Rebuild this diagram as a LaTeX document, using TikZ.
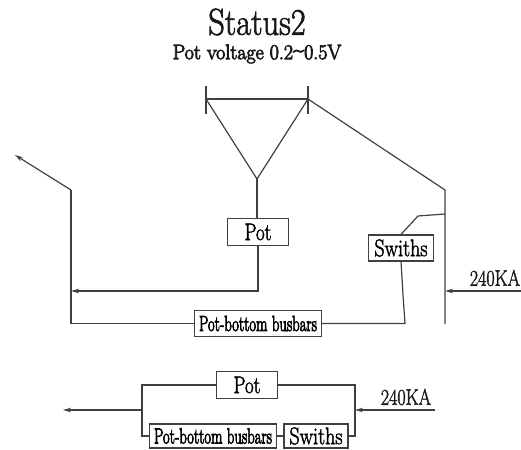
\documentclass[tikz,border=0pt]{standalone}
\usepackage{graphicx}
\usepackage{fontspec}
\newfontfamily\heavyfont[FakeBold=4]{Latin Modern Roman}
\newfontfamily\medfont[FakeBold=2]{Latin Modern Roman}
\usetikzlibrary{arrows.meta}
\newcommand{\condtxt}[3]{\scalebox{#1}[#2]{#3}}
\tikzset{
  wire/.style={line width=1.2pt,draw=black!75,line join=miter},
  flow/.style={wire,-{Stealth[length=8pt,width=4.5pt]}},
  boxnode/.style={draw=black!75,line width=1.2pt,inner sep=0pt,anchor=center,fill=white,font=\fontsize{#1}{#1}\selectfont\medfont},
  lbl/.style={inner sep=0pt,text=black!90,anchor=center},
}
\begin{document}
\begin{tikzpicture}[x=1pt,y=-1pt]
\useasboundingbox (0,0) rectangle (521,449);
\node[lbl,font=\fontsize{30}{30}\selectfont\medfont] (title) at (257,22) {\condtxt{1.08}{1.25}{Status2}};
\node[lbl,font=\fontsize{15}{15}\selectfont\heavyfont] (sub) at (257,54) {\condtxt{1.33}{1.4}{Pot voltage 0.2\raisebox{0.3ex}{\textasciitilde}0.5V}};
% upper circuit
\coordinate (barL) at (206,99);
\coordinate (barR) at (308,99);
\coordinate (tickLt) at (206,86);
\coordinate (tickLb) at (206,114);
\coordinate (tickRt) at (308,86);
\coordinate (tickRb) at (308,114);
\coordinate (apex) at (257,179);
\node[boxnode=20,minimum width=61pt,minimum height=27pt] (pot) at (258,232) {\condtxt{.95}{1.2}{Pot}};
\node[boxnode=20,minimum width=65pt,minimum height=26pt] (sw) at (401,248) {\condtxt{1}{1.2}{Swiths}};
\node[boxnode=15,minimum width=127pt,minimum height=26pt] (bus) at (258,323.5) {\condtxt{.98}{1.45}{\heavyfont Pot-bottom busbars}};
\node[lbl,font=\fontsize{18}{18}\selectfont\medfont] (ka) at (495,278) {\condtxt{1}{1.25}{240KA}};
\coordinate (tipA) at (15,155);
\coordinate (lTop) at (71,190);
\coordinate (lBot) at (71,323.5);
\coordinate (lMid) at (71,291);
\coordinate (potElbow) at (258,291);
\coordinate (rTop) at (445,190);
\coordinate (rBot) at (445,324);
\coordinate (rTap) at (445,214);
\coordinate (rKnee) at (418,216);
\coordinate (swBot) at (401,261);
\coordinate (swElbow) at (405,323.5);
\coordinate (inStart) at (521,291);
\coordinate (inEnd) at (445,291);
\draw[wire] (tickLt) -- (tickLb);
\draw[wire] (tickRt) -- (tickRb);
\draw[wire] (barL) -- (barR);
\draw[wire] (barL) -- (apex) -- (barR);
\draw[wire] (apex) -- (apex |- pot.north);
\draw[wire] (barR) -- (rTop) -- (rBot);
\draw[wire] (rTap) -- (rKnee) -- (sw.north);
\draw[wire] (swBot) -- (403,295) -- (swElbow) -- (bus.east);
\draw[wire] (bus.west) -- (lBot) -- (lTop);
\draw[flow] (lTop) -- (tipA);
\draw[flow] (pot.south) -- (potElbow) -- (lMid);
\draw[flow] (inStart) -- (inEnd);
% lower circuit
\node[boxnode=20,minimum width=61pt,minimum height=27pt] (pot2) at (247,385) {\condtxt{.95}{1.2}{Pot}};
\node[boxnode=15,minimum width=127pt,minimum height=24pt] (bus2) at (213,436) {\condtxt{.98}{1.45}{\heavyfont Pot-bottom busbars}};
\node[boxnode=20,minimum width=64pt,minimum height=24pt] (sw2) at (316,436) {\condtxt{1}{1.2}{Swiths}};
\node[lbl,font=\fontsize{18}{18}\selectfont\medfont] (ka2) at (406,397) {\condtxt{1}{1.25}{240KA}};
\coordinate (loopTL) at (142,385);
\coordinate (loopTR) at (355,385);
\coordinate (loopBL) at (142,436);
\coordinate (loopBR) at (355,436);
\coordinate (outL) at (142,410);
\coordinate (outTip) at (63,410);
\coordinate (inR) at (355,410);
\coordinate (inS) at (435,410);
\draw[wire] (pot2.west) -- (loopTL) -- (loopBL) -- (bus2.west);
\draw[wire] (pot2.east) -- (loopTR) -- (loopBR) -- (sw2.east);
\draw[wire] (bus2.east) -- (sw2.west);
\draw[flow] (outL) -- (outTip);
\draw[flow] (inS) -- (inR);
\end{tikzpicture}
\end{document}
